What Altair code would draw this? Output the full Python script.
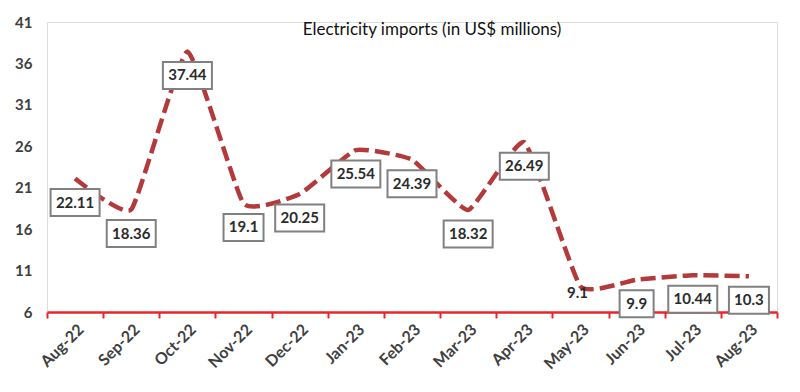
import altair as alt
import pandas as pd

months = ["Aug-22", "Sep-22", "Oct-22", "Nov-22", "Dec-22", "Jan-23", "Feb-23",
          "Mar-23", "Apr-23", "May-23", "Jun-23", "Jul-23", "Aug-23"]
values = [22.11, 18.36, 37.44, 19.1, 20.25, 25.54, 24.39, 18.32, 26.49, 9.1, 9.9, 10.44, 10.3]
labels = ["22.11", "18.36", "37.44", "19.1", "20.25", "25.54", "24.39", "18.32",
          "26.49", "9.1", "9.9", "10.44", "10.3"]
y_ticks = [6, 11, 16, 21, 26, 31, 36, 41]

df = pd.DataFrame({"month": months, "value": values, "label": labels})

FONT = "Lato"
x_enc = alt.X("month:N", sort=months,
              scale=alt.Scale(paddingInner=0, paddingOuter=0),
              axis=alt.Axis(title=None, labelAngle=-45, tickBand="extent",
                            domainColor="#e8262a", domainWidth=2.5,
                            tickColor="#e8262a", tickWidth=2, tickSize=6,
                            labelFont=FONT, labelFontWeight="bold", labelFontSize=16,
                            labelColor="#404040", labelPadding=3, grid=False))
y_enc = alt.Y("value:Q", scale=alt.Scale(domain=[6, 41], nice=False, zero=False),
              axis=alt.Axis(title=None, values=y_ticks, domain=False, ticks=False,
                            grid=False, labelFont=FONT, labelFontWeight="bold",
                            labelFontSize=15, labelColor="#404040", labelPadding=15))

base = alt.Chart(df)

line = base.mark_line(color="#b3393a", strokeWidth=4.5, strokeDash=[15, 6],
                      interpolate="cardinal", tension=0.6).encode(x=x_enc, y=y_enc)

boxed = base.transform_filter("datum.month != 'May-23'")

def box_layer(n, w):
    return boxed.transform_filter(f"length(datum.label) == {n}").mark_rect(
        width=w, height=27, yOffset=24, fill="white", stroke="#808080", strokeWidth=2
    ).encode(x=x_enc, y=y_enc)

boxes = box_layer(5, 49) + box_layer(4, 40) + box_layer(3, 34)

texts = boxed.mark_text(font=FONT, fontWeight="bold", fontSize=15, color="#2b2b2b",
                        dy=24).encode(x=x_enc, y=y_enc, text="label:N")
text_may = base.transform_filter("datum.month == 'May-23'").mark_text(
    font=FONT, fontWeight="bold", fontSize=15, color="#2b2b2b", dy=7, dx=-3
).encode(x=x_enc, y=y_enc, text="label:N")

chart = (line + boxes + texts + text_may).properties(
    width=730, height=290,
    title=alt.TitleParams("Electricity imports (in US$ millions)", font=FONT,
                          fontSize=17, fontWeight="normal", color="#111111",
                          anchor="middle", dx=20, offset=-24),
    padding={"left": 39, "top": 14, "right": 10, "bottom": 70},
    autosize=alt.AutoSizeParams(type="none"),
).configure_view(stroke=None).configure(background="white")

chart.save("out.html", embed_options={"renderer": "svg", "actions": False})
